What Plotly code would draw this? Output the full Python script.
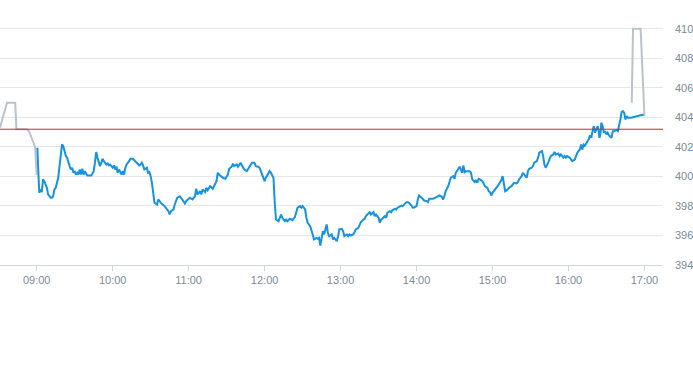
import plotly.graph_objects as go

DATE = "2024-01-02"

# Pre-market (grey)
PRE_TIMES = ["08:31", "08:36:30", "08:43", "08:44", "08:52", "08:54", "08:57", "08:58:40", "09:00"]
PRE_PRICES = [403.3, 405.0, 405.0, 403.2, 403.2, 403.05, 402.4, 402.0, 400.1]

# Regular session (blue)
TIMES = [
    "09:00:30", "09:02", "09:03", "09:04", "09:05", "09:06", "09:07", "09:08", "09:09", "09:10",
    "09:11", "09:12", "09:13", "09:14", "09:15", "09:16", "09:17", "09:18", "09:19", "09:20",
    "09:21", "09:22", "09:23", "09:24", "09:25", "09:26", "09:27", "09:28", "09:29", "09:30",
    "09:31", "09:32", "09:33", "09:34", "09:35", "09:36", "09:37", "09:38", "09:39", "09:40",
    "09:42", "09:43", "09:44", "09:45", "09:46", "09:47", "09:48", "09:49", "09:50", "09:51",
    "09:52", "09:53", "09:54", "09:55", "09:56", "09:57", "09:58", "09:59", "10:00", "10:01",
    "10:02", "10:03", "10:04", "10:05", "10:07", "10:08", "10:09", "10:10", "10:11", "10:13",
    "10:14", "10:16", "10:18", "10:19", "10:21", "10:22", "10:23", "10:24", "10:25", "10:27",
    "10:28", "10:29", "10:30", "10:31", "10:32", "10:33", "10:35", "10:36", "10:37", "10:38",
    "10:41", "10:44", "10:45", "10:46", "10:48", "10:49", "10:51", "10:53", "10:55", "10:57",
    "10:58", "11:01", "11:03", "11:05", "11:06", "11:07", "11:09", "11:10", "11:11", "11:13",
    "11:14", "11:15", "11:17", "11:19", "11:20", "11:22", "11:23", "11:24", "11:27", "11:29",
    "11:31", "11:32", "11:34", "11:35", "11:36", "11:38", "11:39", "11:41", "11:42", "11:44",
    "11:46", "11:48", "11:49", "11:50", "11:52", "11:53", "11:55", "11:56", "11:57", "11:59",
    "12:00", "12:01", "12:03", "12:04", "12:05", "12:07", "12:08", "12:09", "12:11", "12:12",
    "12:13", "12:14", "12:16", "12:17", "12:18", "12:20", "12:22", "12:24", "12:25", "12:26",
    "12:28", "12:29", "12:30", "12:32", "12:33", "12:34", "12:36", "12:37", "12:38", "12:39",
    "12:41", "12:42", "12:43", "12:44", "12:45", "12:46", "12:47", "12:49", "12:50", "12:51",
    "12:53", "12:54", "12:55", "12:57", "12:58", "12:59", "13:01", "13:02", "13:03", "13:05",
    "13:06", "13:07", "13:08", "13:10", "13:11", "13:12", "13:14", "13:15", "13:16", "13:18",
    "13:19", "13:20", "13:22", "13:23", "13:24", "13:26", "13:27", "13:28", "13:30", "13:31",
    "13:32", "13:33", "13:35", "13:36", "13:37", "13:39", "13:40", "13:41", "13:43", "13:44",
    "13:45", "13:47", "13:48", "13:49", "13:51", "13:52", "13:53", "13:54", "13:56", "13:57",
    "13:58", "14:00", "14:01", "14:02", "14:04", "14:05", "14:06", "14:08", "14:09", "14:10",
    "14:11", "14:13", "14:15", "14:16", "14:18", "14:20", "14:21", "14:22", "14:23", "14:25",
    "14:26", "14:27", "14:29", "14:30", "14:31", "14:33", "14:34", "14:35", "14:36", "14:37",
    "14:38", "14:39", "14:40", "14:42", "14:43", "14:44", "14:46", "14:47", "14:48", "14:49",
    "14:50", "14:52", "14:53", "14:54", "14:56", "14:57", "14:58", "14:59", "15:00", "15:02",
    "15:03", "15:04", "15:06", "15:07", "15:08", "15:09", "15:10", "15:12", "15:13", "15:15",
    "15:16", "15:17", "15:19", "15:20", "15:21", "15:23", "15:24", "15:25", "15:27", "15:28",
    "15:29", "15:31", "15:32", "15:33", "15:35", "15:36", "15:37", "15:39", "15:40", "15:41",
    "15:42", "15:44", "15:45", "15:46", "15:48", "15:49", "15:50", "15:52", "15:53", "15:54",
    "15:56", "15:57", "15:58", "15:59", "16:01", "16:02", "16:03", "16:05", "16:06", "16:07",
    "16:09", "16:10", "16:11", "16:12", "16:13", "16:15", "16:16", "16:17", "16:18", "16:19",
    "16:20", "16:21", "16:22", "16:23", "16:23:50", "16:24:30", "16:25:20", "16:25:55", "16:27", "16:28",
    "16:29", "16:30", "16:31", "16:32", "16:34", "16:35", "16:36", "16:38", "16:39", "16:40",
    "16:41", "16:42", "16:43", "16:44", "16:45", "16:46", "16:47", "16:49:30", "16:52", "16:55",
    "16:57", "17:00",
]
PRICES = [
    401.95, 398.89, 399.12, 398.94, 399.80, 399.68, 399.46, 399.25, 398.78, 398.66,
    398.56, 398.56, 398.66, 399.12, 399.23, 399.57, 399.91, 400.70, 401.61, 402.17,
    402.05, 401.72, 401.38, 401.27, 400.93, 400.70, 400.47, 400.59, 400.25, 400.36,
    400.13, 400.25, 400.13, 400.47, 400.13, 400.52, 400.13, 400.36, 400.20, 400.07,
    400.07, 400.07, 400.18, 400.36, 400.93, 401.65, 401.27, 400.93, 400.70, 400.93,
    401.20, 401.04, 400.93, 400.81, 400.88, 400.75, 400.81, 400.70, 400.59, 400.75,
    400.47, 400.66, 400.25, 400.47, 400.13, 400.36, 400.13, 400.59, 400.81, 401.04,
    401.20, 401.20, 401.04, 400.93, 400.75, 400.81, 400.93, 400.75, 400.47, 400.59,
    400.25, 400.29, 400.02, 399.57, 398.66, 398.22, 398.10, 398.44, 398.33, 398.22,
    397.99, 397.65, 397.42, 397.65, 397.76, 398.10, 398.56, 398.66, 398.44, 398.17,
    398.33, 398.56, 398.44, 398.66, 399.17, 398.78, 399.00, 398.78, 399.12, 398.94,
    399.23, 399.07, 399.34, 399.17, 399.34, 399.68, 400.25, 400.13, 399.91, 399.84,
    400.13, 400.52, 400.66, 400.86, 400.70, 400.81, 400.66, 400.93, 400.75, 400.47,
    400.36, 400.70, 400.81, 400.93, 400.93, 400.70, 400.66, 400.59, 400.36, 399.91,
    399.68, 399.91, 400.25, 400.36, 400.25, 399.91, 398.22, 397.08, 396.97, 397.20,
    397.42, 397.20, 396.97, 397.08, 396.97, 397.13, 397.04, 397.27, 397.54, 397.88,
    397.99, 397.88, 397.99, 397.76, 397.20, 396.86, 396.63, 396.41, 396.07, 395.73,
    395.84, 395.78, 395.84, 395.32, 395.73, 396.29, 396.07, 396.75, 396.18, 395.95,
    396.07, 395.73, 395.84, 395.61, 395.95, 396.41, 396.45, 396.29, 395.95, 396.07,
    395.95, 396.07, 396.00, 396.07, 396.22, 396.41, 396.52, 396.75, 396.90, 397.08,
    397.13, 397.31, 397.49, 397.58, 397.42, 397.58, 397.31, 397.42, 397.20, 396.86,
    397.08, 397.13, 397.31, 397.20, 397.54, 397.65, 397.58, 397.72, 397.81, 397.76,
    397.88, 397.99, 398.03, 397.99, 398.22, 398.26, 398.26, 398.22, 398.03, 397.88,
    397.90, 397.99, 398.44, 398.71, 398.56, 398.44, 398.37, 398.33, 398.26, 398.49,
    398.49, 398.49, 398.56, 398.62, 398.71, 398.62, 398.44, 398.66, 399.00, 399.34,
    399.68, 399.91, 400.02, 399.84, 400.25, 400.47, 400.66, 400.47, 400.25, 400.75,
    400.29, 400.36, 400.36, 400.36, 400.25, 399.80, 399.61, 399.75, 399.57, 399.84,
    399.80, 399.68, 399.53, 399.34, 399.23, 399.00, 398.94, 398.71, 398.89, 399.07,
    399.23, 399.34, 399.57, 399.75, 400.02, 399.46, 399.00, 399.12, 399.23, 399.34,
    399.46, 399.57, 399.53, 399.61, 399.80, 400.02, 400.25, 400.13, 399.91, 400.36,
    400.52, 400.59, 400.70, 400.93, 401.04, 401.27, 401.61, 401.72, 401.38, 400.81,
    400.59, 400.93, 401.15, 401.38, 401.49, 401.65, 401.49, 401.56, 401.38, 401.49,
    401.27, 401.38, 401.27, 401.38, 401.27, 401.15, 401.04, 401.15, 401.38, 401.61,
    401.83, 402.17, 401.83, 402.17, 402.10, 402.39, 402.51, 402.78, 402.62, 403.07,
    403.41, 402.96, 403.19, 403.41, 403.07, 402.62, 402.96, 403.64, 403.41, 402.96,
    403.07, 402.85, 402.96, 402.78, 402.62, 403.07, 403.07, 403.14, 403.07, 403.41,
    403.86, 404.36, 404.43, 404.32, 403.86, 404.09, 403.98, 403.98, 404.05, 404.09,
    404.14, 404.20,
]

# After-hours (grey)
POST_TIMES = ["16:50", "16:51", "16:57", "17:00"]
POST_PRICES = [405.0, 410.0, 410.0, 404.1]

PREV_CLOSE = 403.2

X_RANGE = ["08:31", "17:14:40"]
Y_RANGE = [394, 410.6]
Y_TICKS = [394, 396, 398, 400, 402, 404, 406, 408, 410]


def ts(t):
    return f"{DATE} {t}"


fig = go.Figure()

fig.add_trace(go.Scatter(
    x=[ts(t) for t in PRE_TIMES], y=PRE_PRICES, mode="lines",
    line=dict(color="#b8c3cd", width=2), hoverinfo="skip", showlegend=False,
))
fig.add_trace(go.Scatter(
    x=[ts(t) for t in TIMES], y=PRICES, mode="lines",
    line=dict(color="#1592e0", width=2), showlegend=False,
))
fig.add_trace(go.Scatter(
    x=[ts(t) for t in POST_TIMES], y=POST_PRICES, mode="lines",
    line=dict(color="#b8c3cd", width=2), hoverinfo="skip", showlegend=False,
))

fig.add_shape(type="line", xref="paper", x0=0, x1=1, yref="y",
              y0=PREV_CLOSE, y1=PREV_CLOSE,
              line=dict(color="#d8261d", width=1))

font = dict(family="Liberation Sans, Arial, sans-serif", size=11, color="#7d8a98")

fig.update_layout(
    width=693, height=365,
    margin=dict(l=0, r=30, t=20, b=100, autoexpand=False),
    paper_bgcolor="white", plot_bgcolor="white",
    font=font,
    xaxis=dict(
        type="date", range=[ts(X_RANGE[0]), ts(X_RANGE[1])],
        tickformat="%H:%M", dtick=3600000, tick0=ts("09:00"),
        showgrid=False, zeroline=False,
        showline=True, linecolor="#ccd6eb", linewidth=1,
        ticks="outside", ticklen=5, tickcolor="#ccd6eb",
        tickfont=font, automargin=False,
    ),
    yaxis=dict(
        side="right", range=Y_RANGE, tickvals=Y_TICKS,
        showgrid=True, gridcolor="#e6e6e6", gridwidth=1,
        zeroline=False, showline=False, ticks="",
        ticklabelstandoff=11,
        tickfont=font, automargin=False,
    ),
)

fig.write_html(
    "out.html",
    config={"displayModeBar": False},
    post_script="document.body.style.margin='0';document.body.style.overflow='hidden';",
)
